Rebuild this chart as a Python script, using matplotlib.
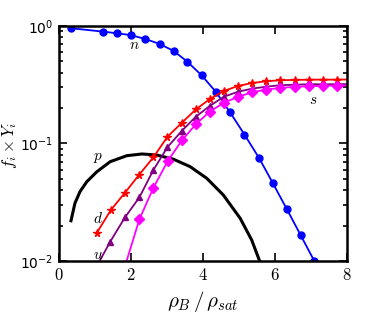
import matplotlib
import matplotlib.pyplot as plt

matplotlib.use("Agg")
plt.rcParams["mathtext.fontset"] = "cm"

# neutron fraction (n)
n_x = [0.33, 1.22, 1.60, 2.00, 2.39, 2.79, 3.18, 3.56, 3.96, 4.35, 4.75,
       5.15, 5.56, 5.94, 6.33, 6.71, 7.09, 7.48]
n_y = [0.956, 0.894, 0.867, 0.834, 0.775, 0.703, 0.613, 0.497, 0.380, 0.276,
       0.184, 0.119, 0.0748, 0.0458, 0.0275, 0.0166, 0.0100, 0.0060]

# proton fraction (p)
p_x = [0.33, 0.44, 0.58, 0.77, 1.05, 1.42, 1.88, 2.30, 2.71, 3.18, 3.64,
       4.10, 4.56, 5.03, 5.35, 5.56, 5.65]
p_y = [0.0220, 0.0310, 0.0389, 0.0473, 0.0575, 0.0700, 0.0787, 0.0814,
       0.0798, 0.0734, 0.0635, 0.0506, 0.0365, 0.0231, 0.0151, 0.0102,
       0.0090]

# down quark (d)
d_x = [1.05, 1.44, 1.83, 2.22, 2.62, 3.01, 3.41, 3.80, 4.19, 4.58, 4.98,
       5.37, 5.75, 6.14, 6.54, 6.93, 7.33, 7.71, 8.0]
d_y = [0.0174, 0.0272, 0.0381, 0.054, 0.0763, 0.114, 0.150, 0.195, 0.239,
       0.280, 0.309, 0.327, 0.338, 0.345, 0.347, 0.349, 0.349, 0.349, 0.350]

# up quark (u)
u_x = [1.0, 1.42, 1.83, 2.23, 2.62, 3.01, 3.41, 3.80, 4.19, 4.58, 4.98,
       5.37, 5.75, 6.14, 6.54, 6.93, 7.33, 7.71, 8.0]
u_y = [0.0085, 0.0146, 0.0235, 0.0348, 0.0595, 0.093, 0.128, 0.169, 0.209,
       0.250, 0.276, 0.293, 0.304, 0.313, 0.316, 0.319, 0.319, 0.319, 0.320]

# strange quark (s)
s_x = [1.75, 2.23, 2.62, 3.02, 3.41, 3.80, 4.19, 4.58, 4.98, 5.37, 5.75,
       6.14, 6.54, 6.93, 7.33, 7.71, 8.0]
s_y = [0.0075, 0.0226, 0.042, 0.071, 0.106, 0.146, 0.187, 0.222, 0.250,
       0.273, 0.287, 0.297, 0.303, 0.307, 0.309, 0.311, 0.312]

labels = {"n": (2.08, 0.70), "s": (7.05, 0.235), "p": (1.09, 0.076),
          "d": (1.09, 0.0232), "u": (1.09, 0.0114)}

fig = plt.figure(figsize=(3.74, 3.16), dpi=100)
ax = fig.add_axes([0.158, 0.174, 0.77, 0.744])

ax.plot(n_x, n_y, "-o", color="#0000ff", lw=1.3, ms=5,
        markevery=list(range(len(n_x) - 1)))
ax.plot(p_x, p_y, "-", color="black", lw=2.2)
ax.plot(d_x, d_y, "-*", color="red", lw=1.3, ms=5.5,
        markevery=list(range(len(d_x) - 1)))
ax.plot(u_x, u_y, "-^", color="#800080", lw=1.3, ms=5,
        markevery=list(range(1, len(u_x) - 1)))
ax.plot(s_x, s_y, "-D", color="#ff00ff", lw=1.3, ms=5,
        markevery=list(range(1, len(s_x) - 1)))

for name, (lx, ly) in labels.items():
    ax.text(lx, ly, "$%s$" % name, fontsize=11, ha="center", va="center")

ax.set_yscale("log")
ax.set_xlim(0, 8)
ax.set_ylim(1e-2, 1)
ax.set_xticks([0, 2, 4, 6, 8])
ax.set_xticklabels(["$%d$" % v for v in [0, 2, 4, 6, 8]], fontsize=12)
ax.tick_params(axis="y", labelsize=10, pad=4)
ax.tick_params(which="both", direction="in", top=True, right=True, width=1.2)
ax.tick_params(which="major", length=6)
ax.tick_params(which="minor", length=3)
for sp in ax.spines.values():
    sp.set_linewidth(1.8)

ax.set_xlabel(r"$\rho_B\,/\,\rho_{sat}$", fontsize=15)
ax.set_ylabel(r"$f_i\times Y_i$", fontsize=12, va="center")
ax.yaxis.set_label_coords(-0.172, 0.49)

fig.savefig("out.png", dpi=100)
